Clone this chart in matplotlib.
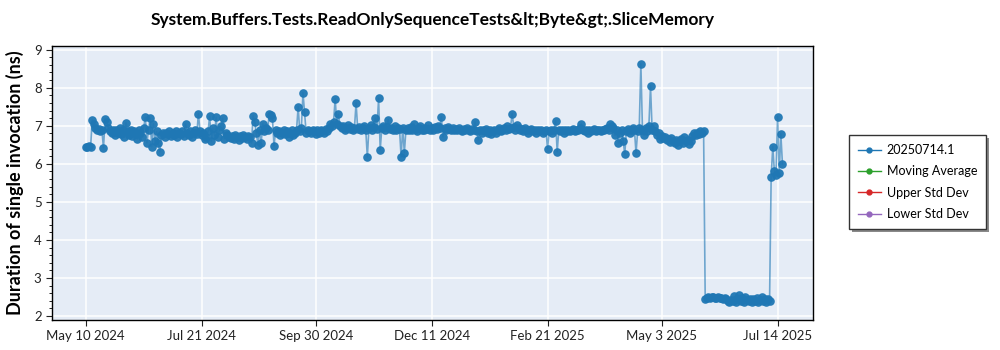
import numpy as np
import pandas as pd
import matplotlib
matplotlib.use("Agg")
import matplotlib.pyplot as plt
from matplotlib.lines import Line2D

plt.rcParams['font.family'] = ['Lato', 'DejaVu Sans']

TITLE = "System.Buffers.Tests.ReadOnlySequenceTests&lt;Byte&gt;.SliceMemory"
YLABEL = "Duration of single invocation (ns)"
START = "2024-05-10"

# one run per day, ns per invocation
may_aug_2024 = [
    6.45, 6.44, 6.46, 6.45, 7.15, 7.05, 6.95, 6.9, 6.92, 6.85,
    6.88, 6.42, 7.18, 7.1, 6.95, 6.85, 6.8, 6.9, 6.75, 6.88,
    6.82, 6.95, 6.78, 6.9, 6.7, 7.08, 6.85, 6.75, 6.9, 6.72,
    6.85, 6.78, 6.65, 6.88, 6.8, 6.7, 6.95, 7.22, 6.55, 6.9,
    7.2, 6.45, 7.05, 6.6, 6.85, 6.55, 6.32, 6.75, 6.82, 6.7,
    6.8, 6.78, 6.85, 6.72, 6.8, 6.75, 6.85, 6.7, 6.82, 6.78,
    6.85, 6.72, 7.05, 6.8, 6.75, 6.85, 6.7, 6.8, 6.9, 6.78,
    7.32, 6.85, 6.75, 6.8, 6.65, 6.7, 6.85, 7.25, 6.6, 6.95,
    6.75, 7.22, 6.7, 6.9, 7.0, 7.2, 6.65, 6.8, 6.75, 6.7,
    6.68, 6.72, 6.65, 6.75, 6.7, 6.62, 6.72, 6.68, 6.75, 6.7,
]
aug_dec_2024 = [
    6.65, 6.72, 6.7, 6.55, 7.26, 7.1, 6.8, 6.5, 6.9, 6.55,
    7.05, 6.85, 6.95, 6.9, 7.3, 7.28, 7.2, 6.47, 6.9, 6.8,
    6.85, 6.75, 6.8, 6.9, 6.78, 6.85, 6.7, 6.82, 6.88, 6.75,
    6.8, 6.9, 7.5, 6.85, 6.95, 7.87, 7.35, 6.8, 6.9, 6.85,
    6.8, 6.9, 6.85, 6.78, 6.88, 6.82, 6.9, 6.85, 6.8, 6.92,
    6.85, 6.95, 7.05, 7.0, 7.1, 7.71, 7.05, 7.3, 7.0, 6.95,
    7.0, 6.9, 6.95, 7.02, 6.92, 6.98, 6.9, 6.95, 7.6, 6.92,
    6.98, 6.88, 6.95, 7.0, 6.9, 6.18, 6.95, 7.02, 6.9, 6.98,
    7.2, 6.92, 7.72, 6.37, 6.95, 7.0, 6.9, 6.98, 7.16, 6.92,
    6.95, 6.88, 7.0, 6.9, 6.95, 6.92, 6.18, 6.95, 6.29, 6.9,
    6.95, 6.88, 6.98, 6.9, 7.05, 6.92, 6.85, 6.95, 7.0, 6.9,
    6.88, 6.95, 6.92, 7.02, 6.9, 6.95, 6.88, 6.98, 6.92, 7.0,
]
dec_2024_may_2025 = [
    6.95, 7.24, 6.71, 6.95, 6.9, 6.98, 6.92, 6.88, 6.95, 6.9,
    6.92, 6.88, 6.95, 6.9, 6.85, 6.92, 6.88, 6.95, 6.9, 6.85,
    6.92, 6.88, 7.1, 6.85, 6.63, 6.9, 6.8, 6.88, 6.85, 6.92,
    6.82, 6.88, 6.78, 6.85, 6.9, 6.82, 6.88, 6.95, 6.85, 6.9,
    6.95, 6.88, 7.0, 6.92, 6.95, 7.32, 6.98, 6.9, 7.02, 6.95,
    6.88, 6.92, 6.85, 6.95, 6.9, 6.82, 6.88, 6.92, 6.85, 6.88,
    6.82, 6.9, 6.85, 6.88, 6.8, 6.85, 6.9, 6.4, 6.85, 6.88,
    6.82, 6.9, 7.13, 6.32, 6.88, 6.85, 6.9, 6.82, 6.88, 6.85,
    6.9, 6.85, 6.88, 6.92, 6.85, 6.9, 6.88, 6.95, 7.05, 6.9,
    6.85, 6.88, 6.82, 6.9, 6.85, 6.88, 6.92, 6.85, 6.9, 6.88,
    6.85, 6.9, 6.88, 6.92, 6.95, 6.9, 7.05, 7.0, 6.95, 6.75,
    6.88, 6.55, 6.8, 6.9, 6.6, 6.26, 6.85, 6.92, 6.8, 6.88,
    6.95, 6.9, 6.28, 6.85, 6.95, 8.63, 6.9, 6.75, 6.95, 6.85,
    7.0, 8.05, 6.9, 7.0, 6.85, 6.75, 6.8, 6.65, 6.72, 6.68,
    6.7, 6.62, 6.65, 6.58, 6.68, 6.6, 6.55, 6.62, 6.5, 6.6,
    6.65, 6.55, 6.7, 6.6, 6.62, 6.52, 6.6, 6.72, 6.8, 6.75,
    6.82, 6.78, 6.85, 6.8, 6.85,
]
jun_jul_2025 = [
    2.45, 2.48, 2.5, 2.47, 2.49, 2.5, 2.48, 2.47, 2.5, 2.48,
    2.47, 2.46, 2.48, 2.45, 2.4, 2.38, 2.42, 2.4, 2.52, 2.38,
    2.45, 2.55, 2.4, 2.48, 2.38, 2.5, 2.42, 2.4, 2.46, 2.38,
    2.44, 2.4, 2.48, 2.38, 2.42, 2.5, 2.4, 2.45, 2.38, 2.44,
    2.4,
    5.66, 6.45, 5.8, 5.72, 7.24, 5.75, 6.79, 6.0,
]

series = ["20250714.1", "Moving Average", "Upper Std Dev", "Lower Std Dev"]
colors = ["#1f77b4", "#2ca02c", "#d62728", "#9467bd"]

tick_dates = ["2024-05-10", "2024-07-21", "2024-09-30", "2024-12-11",
              "2025-02-21", "2025-05-03", "2025-07-14"]

values = np.array(may_aug_2024 + aug_dec_2024 + dec_2024_may_2025 + jun_jul_2025)
dates = pd.date_range(START, periods=len(values), freq="D")

fig = plt.figure(figsize=(10, 3.5), dpi=100)
ax = fig.add_axes([0.052, 0.086, 0.761, 0.783])
ax.set_facecolor("#E5ECF6")

ax.plot(dates, values, color=colors[0], lw=1.2, alpha=0.6, zorder=2)
ax.plot(dates, values, ls="none", marker="o", ms=6.2, color=colors[0],
        alpha=0.95, markeredgewidth=0, zorder=3)

ax.set_ylim(1.9, 9.1)
ax.set_xlim(pd.Timestamp("2024-04-19"), pd.Timestamp("2025-08-05"))
ax.set_yticks(range(2, 10))
ax.yaxis.set_minor_locator(matplotlib.ticker.MultipleLocator(0.2))

ticks = pd.to_datetime(tick_dates)
ax.set_xticks(ticks)
ax.set_xticklabels([f"{t:%b} {t.day} {t.year}" for t in ticks])

ax.grid(True, color="white", lw=1.1, zorder=0)
ax.set_axisbelow(True)
for s in ax.spines.values():
    s.set_color("black")
    s.set_linewidth(1)
ax.tick_params(axis="both", labelsize=9.5, colors="#222222", length=4)
ax.tick_params(axis="y", which="minor", length=2)

ax.set_ylabel(YLABEL, fontsize=13, fontweight="bold", labelpad=7)
fig.suptitle(TITLE, fontsize=12.5, fontweight="bold", x=0.433, y=0.965)

handles = [Line2D([], [], color=c, marker="o", ms=3.5, lw=1) for c in colors]
leg = fig.legend(handles, series, loc="center left", bbox_to_anchor=(0.843, 0.48),
                 fontsize=9, frameon=True, fancybox=False, framealpha=1,
                 handlelength=1.8, handletextpad=0.5, labelspacing=0.75,
                 borderpad=0.7)
leg.get_frame().set_edgecolor("#333333")
leg.get_frame().set_facecolor("white")
leg.get_frame().set_linewidth(1)
leg.set_zorder(5)

# drop shadow behind the legend box
fig.canvas.draw()
bb = leg.get_window_extent().transformed(fig.transFigure.inverted())
fig.patches.append(matplotlib.patches.Rectangle(
    (bb.x0 + 0.003, bb.y0 - 0.009), bb.width, bb.height, transform=fig.transFigure,
    facecolor="#8a8a8a", edgecolor="none", zorder=4))

fig.savefig("out.png", dpi=100)
